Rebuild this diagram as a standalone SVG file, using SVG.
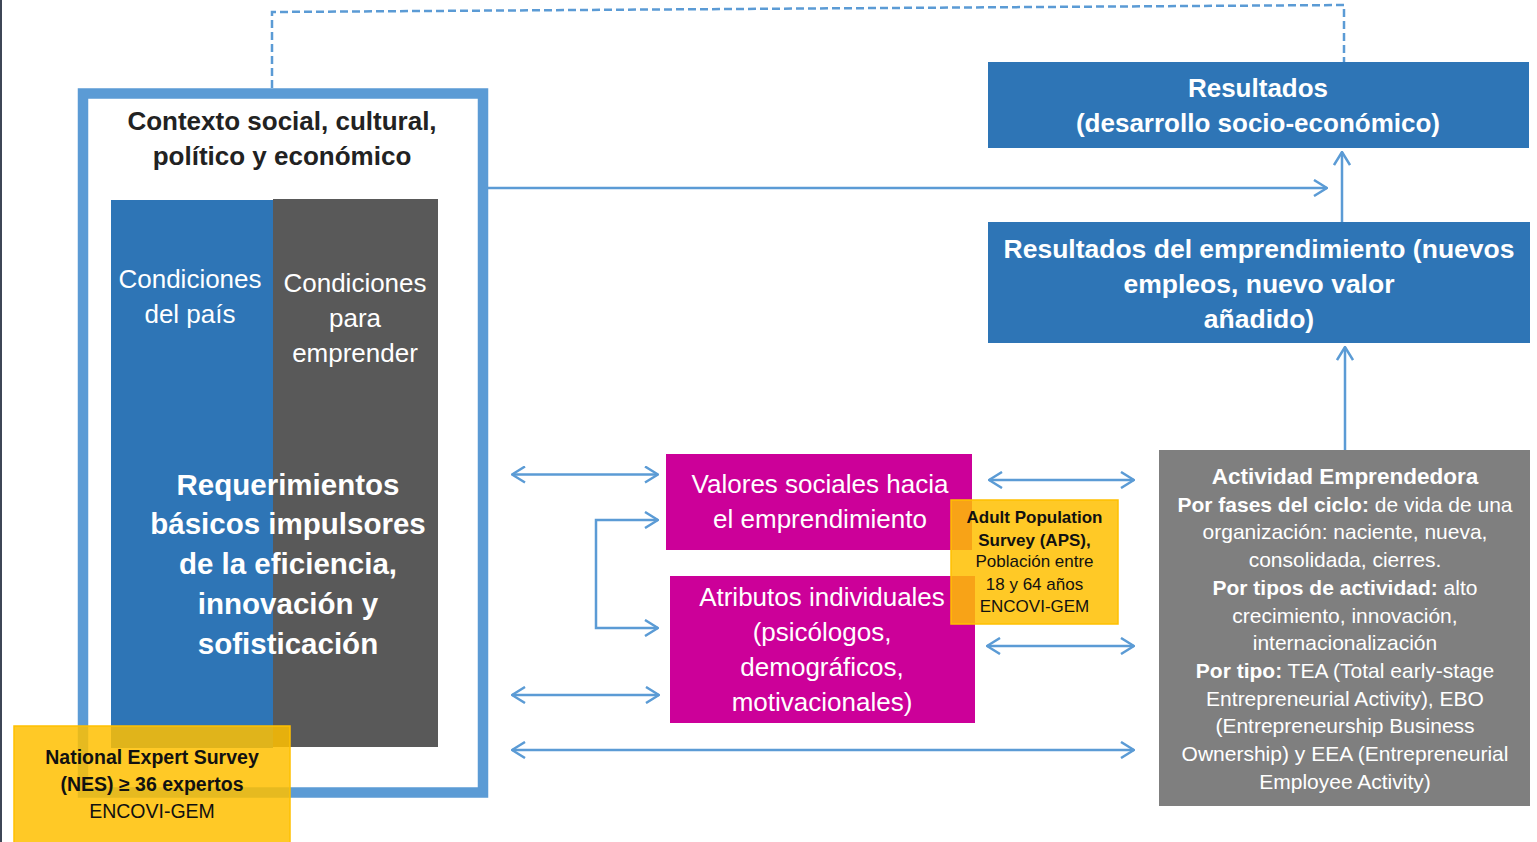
<svg xmlns="http://www.w3.org/2000/svg" width="1537" height="842" viewBox="0 0 1537 842">
<style>
.t{font-family:"Liberation Sans",Arial,sans-serif;text-anchor:middle}
.w{fill:#ffffff}
.k{fill:#111111}
.b{font-weight:bold}
.conn{fill:none;stroke:#5B9BD5;stroke-width:2.5}
.yel{fill:#FFC000;fill-opacity:0.85;stroke:#FFC000;stroke-width:1.5}
</style>
<defs>
<marker id="ah" viewBox="0 0 15 18" refX="14" refY="9" markerWidth="15" markerHeight="18" markerUnits="userSpaceOnUse" orient="auto-start-reverse">
<path d="M1,1 L14,9 L1,17" fill="none" stroke="#5B9BD5" stroke-width="2.5" stroke-linejoin="miter"/>
</marker>
</defs>
<rect width="1537" height="842" fill="#ffffff"/>
<rect x="0" y="0" width="2" height="842" fill="#3E4656"/>

<g id="contexto">
<rect x="83" y="93.5" width="400" height="699" fill="#ffffff" stroke="#5B9BD5" stroke-width="10.5"/>
<text class="t b" font-size="26" fill="#222222" x="282" y="130">Contexto social, cultural,</text>
<text class="t b" font-size="26" fill="#222222" x="282" y="165">político y económico</text>
</g>

<g id="columnas">
<rect x="111" y="200" width="162" height="548" fill="#2E75B6"/>
<rect x="273" y="199" width="165" height="548" fill="#595959"/>
<text class="t w" font-size="26" x="190" y="288">Condiciones</text>
<text class="t w" font-size="26" x="190" y="323">del país</text>
<text class="t w" font-size="26" x="355" y="292">Condiciones</text>
<text class="t w" font-size="26" x="355" y="327">para</text>
<text class="t w" font-size="26" x="355" y="362">emprender</text>
<text class="t w b" font-size="29.5" x="288" y="495">Requerimientos</text>
<text class="t w b" font-size="29.5" x="288" y="534">básicos impulsores</text>
<text class="t w b" font-size="29.5" x="288" y="574">de la eficiencia,</text>
<text class="t w b" font-size="29.5" x="288" y="614">innovación y</text>
<text class="t w b" font-size="29.5" x="288" y="654">sofisticación</text>
</g>

<g id="nes">
<rect class="yel" x="14" y="726" width="276" height="118"/>
<text class="t k b" font-size="19.5" x="152" y="764">National Expert Survey</text>
<text class="t k b" font-size="19.5" x="152" y="791">(NES) ≥ 36 expertos</text>
<text class="t k" font-size="19.5" x="152" y="818">ENCOVI-GEM</text>
</g>

<g id="resultados">
<rect x="988" y="62" width="541" height="86" fill="#2E75B6"/>
<text class="t w b" font-size="26" x="1258" y="97">Resultados</text>
<text class="t w b" font-size="26" x="1258" y="132">(desarrollo socio-económico)</text>
</g>

<g id="resultados-emprendimiento">
<rect x="988" y="222" width="542" height="121" fill="#2E75B6"/>
<text class="t w b" font-size="26.5" x="1259" y="258">Resultados del emprendimiento (nuevos</text>
<text class="t w b" font-size="26.5" x="1259" y="293">empleos, nuevo valor</text>
<text class="t w b" font-size="26.5" x="1259" y="328">añadido)</text>
</g>

<g id="valores">
<rect x="666" y="454" width="306" height="96" fill="#CC0099"/>
<text class="t w" font-size="26" x="820" y="493">Valores sociales hacia</text>
<text class="t w" font-size="26" x="820" y="528">el emprendimiento</text>
</g>

<g id="atributos">
<rect x="670" y="576" width="305" height="147" fill="#CC0099"/>
<text class="t w" font-size="26" x="822" y="606">Atributos individuales</text>
<text class="t w" font-size="26" x="822" y="641">(psicólogos,</text>
<text class="t w" font-size="26" x="822" y="676">demográficos,</text>
<text class="t w" font-size="26" x="822" y="711">motivacionales)</text>
</g>

<g id="aps">
<rect class="yel" x="951" y="500" width="167" height="124"/>
<text class="t k b" font-size="17" x="1034.5" y="523">Adult Population</text>
<text class="t k b" font-size="17" x="1034.5" y="546">Survey (APS),</text>
<text class="t k" font-size="17" x="1034.5" y="567">Población entre</text>
<text class="t k" font-size="17" x="1034.5" y="590">18 y 64 años</text>
<text class="t k" font-size="17" x="1034.5" y="612">ENCOVI-GEM</text>
</g>

<g id="actividad">
<rect x="1159" y="450" width="371" height="356" fill="#7F7F7F"/>
<text class="t w" font-size="21" x="1345" y="484"><tspan class="b" font-size="22.5">Actividad Emprendedora</tspan></text>
<text class="t w" font-size="21" x="1345" y="512"><tspan class="b">Por fases del ciclo:</tspan> de vida de una</text>
<text class="t w" font-size="21" x="1345" y="539">organización: naciente, nueva,</text>
<text class="t w" font-size="21" x="1345" y="567">consolidada, cierres.</text>
<text class="t w" font-size="21" x="1345" y="595"><tspan class="b">Por tipos de actividad:</tspan> alto</text>
<text class="t w" font-size="21" x="1345" y="623">crecimiento, innovación,</text>
<text class="t w" font-size="21" x="1345" y="650">internacionalización</text>
<text class="t w" font-size="21" x="1345" y="678"><tspan class="b">Por tipo:</tspan> TEA (Total early-stage</text>
<text class="t w" font-size="21" x="1345" y="706">Entrepreneurial Activity), EBO</text>
<text class="t w" font-size="21" x="1345" y="733">(Entrepreneurship Business</text>
<text class="t w" font-size="21" x="1345" y="761">Ownership) y EEA (Entrepreneurial</text>
<text class="t w" font-size="21" x="1345" y="789">Employee Activity)</text>
</g>

<g id="connectors">
<path class="conn" d="M272,88 L272,12 L1344,5 L1344,62" stroke-dasharray="8 4"/>
<path class="conn" d="M488,188 L1327,188" marker-end="url(#ah)"/>
<path class="conn" d="M1342,222 L1342,152" marker-end="url(#ah)"/>
<path class="conn" d="M1345,450 L1345,347" marker-end="url(#ah)"/>
<path class="conn" d="M512,474.5 L658,474.5" marker-start="url(#ah)" marker-end="url(#ah)"/>
<path class="conn" d="M658,520 L596,520 L596,628 L658,628" marker-start="url(#ah)" marker-end="url(#ah)"/>
<path class="conn" d="M512,695 L659,695" marker-start="url(#ah)" marker-end="url(#ah)"/>
<path class="conn" d="M512,750 L1134,750" marker-start="url(#ah)" marker-end="url(#ah)"/>
<path class="conn" d="M989,480 L1134,480" marker-start="url(#ah)" marker-end="url(#ah)"/>
<path class="conn" d="M987,646 L1134,646" marker-start="url(#ah)" marker-end="url(#ah)"/>
</g>
</svg>
